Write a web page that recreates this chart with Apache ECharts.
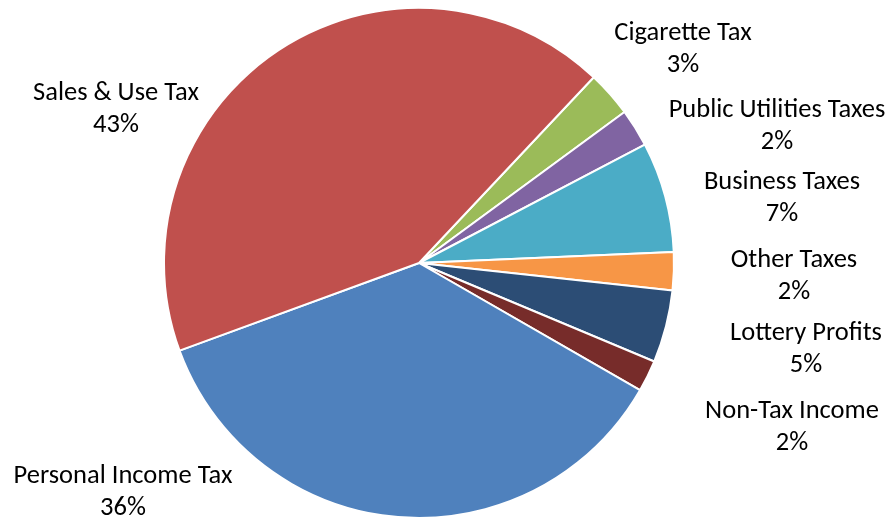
<!DOCTYPE html>
<html>
<head>
<meta charset="utf-8">
<script src="https://cdn.jsdelivr.net/npm/echarts@6/dist/echarts.min.js"></script>
<style>
html,body{margin:0;padding:0;background:#fff;}
#chart{width:890px;height:519px;}
</style>
</head>
<body>
<div id="chart"></div>
<script>
const categories = ['Cigarette Tax','Public Utilities Taxes','Business Taxes','Other Taxes','Lottery Profits','Non-Tax Income','Personal Income Tax','Sales & Use Tax'];
const values = [2.9, 2.4, 7.0, 2.4, 4.6, 2.0, 36.1, 42.6];
const colors = ['#9BBB59','#8064A2','#4BACC6','#F79646','#2C4D75','#772C2A','#4F81BD','#C0504D'];

// label anchor positions (px) for each category, matching the reference layout
const labelPos = [[683,49],[777,126],[782,198],[794,276],[806,349],[792,427],[123,492],[116,109]];

const chart = echarts.init(document.getElementById('chart'));
chart.setOption({
  animation: false,
  backgroundColor: '#fff',
  series: [{
    type: 'pie',
    center: [419, 263],
    radius: 255,
    startAngle: 46.75,
    clockwise: true,
    avoidLabelOverlap: false,
    percentPrecision: 0,
    data: categories.map((c, i) => ({name: c, value: values[i], itemStyle: {color: colors[i]}})),
    itemStyle: {borderColor: '#fff', borderWidth: 2},
    label: {
      show: true,
      position: 'outside',
      formatter: '{b}\n{d}%',
      fontFamily: 'Carlito, Lato, sans-serif',
      fontSize: 26.5,
      lineHeight: 32,
      color: '#000',
      align: 'center'
    },
    labelLine: {show: false},
    emphasis: {disabled: true},
    labelLayout: function (params) {
      const p = labelPos[params.dataIndex];
      return {x: p[0], y: p[1], align: 'center', verticalAlign: 'middle', moveOverlap: false, hideOverlap: false};
    }
  }]
});
</script>
</body>
</html>
